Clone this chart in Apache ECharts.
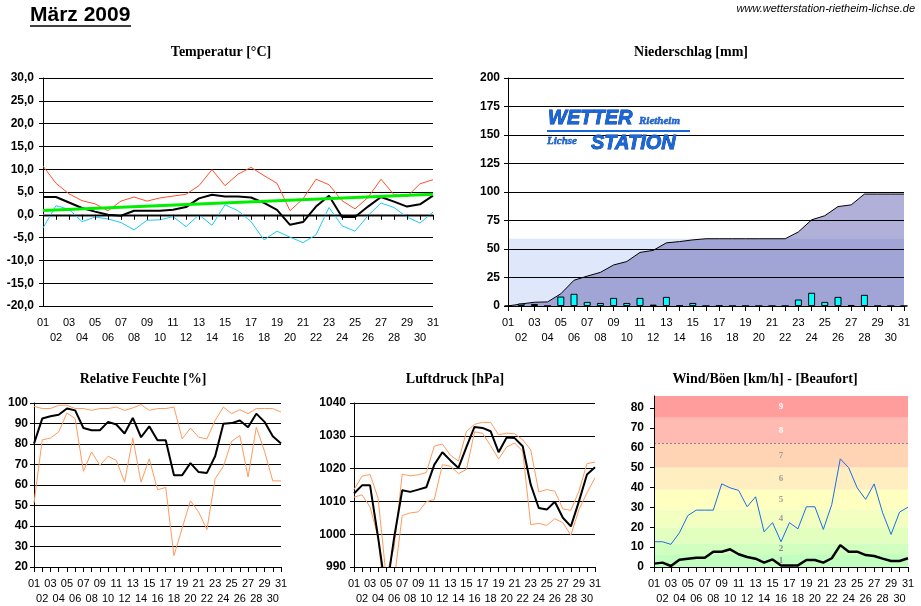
<!DOCTYPE html>
<html><head><meta charset="utf-8">
<script src="https://cdn.jsdelivr.net/npm/echarts@6/dist/echarts.min.js"></script>
<style>html,body{margin:0;padding:0;background:#fff}#c{width:921px;height:606px}</style>
</head><body><div id="c"></div>
<script>
const days = ['01','02','03','04','05','06','07','08','09','10','11','12','13','14','15','16','17','18','19','20','21','22','23','24','25','26','27','28','29','30','31'];

// Temperatur [°C]
const tempMax  = [10.7,6.9,4.6,3.1,2.4,0.9,3.0,3.9,3.0,3.7,4.1,4.5,6.4,9.9,6.4,8.9,10.4,8.6,6.9,0.9,3.5,7.8,6.6,3.1,1.3,3.8,7.8,4.4,4.0,6.8,7.7];
const tempMean = [3.9,3.9,2.7,1.5,0.7,0.0,-0.2,0.9,0.9,0.9,1.1,1.7,3.6,4.4,4.0,4.0,3.8,2.6,1.1,-2.2,-1.6,1.8,4.2,-0.5,-0.5,1.8,3.9,2.9,1.8,2.3,4.2];
const tempMin  = [-2.9,2.0,1.2,-1.5,-0.5,-0.9,-1.7,-3.3,-1.2,-1.1,-0.4,-2.6,0.0,-2.3,2.2,0.9,-1.5,-5.5,-3.6,-4.9,-6.1,-4.4,1.6,-2.4,-3.6,-0.2,2.6,1.6,-0.5,-1.8,0.6];
const tempTrend = [0.95, 4.5];   // Trendlinie: Wert am 01. und am 31.
const tempTicks = {min: -20, max: 30, interval: 5};

// Niederschlag [mm]
const rainDaily = [0,2.1,1.8,0,8.3,10.7,3.6,2.7,7.1,2.7,7.1,1.2,8.0,0.3,2.7,0,0.3,0,0,0,0,0,5.7,11.6,3.6,8.0,0.9,9.8,0,0,0];
const rainSum   = [0,1.8,3.3,3.6,10.7,22.6,26.2,29.5,36,39,47,48.8,55.4,56.5,58,59,59,59,59,59,59,59,65,75.6,79.2,87.2,88.7,98.2,98.2,98.2,98.2];
const rainMeanLevel = 59;
const rainTicks = {min: 0, max: 200, interval: 25};

// Relative Feuchte [%]
const humMax  = [98.4,97.3,97.3,98.9,98.9,97.3,97.3,96.4,97.3,97.3,98,96.4,97.6,99.2,96.4,97.3,97.3,98,82.5,87.8,83.3,82.5,91.5,98,94.8,96.7,94.8,97.3,97.3,97.3,95.6];
const humMean = [80.2,92.4,93.5,94.3,97.3,96.4,87.8,86.7,86.7,90.8,89.5,85.1,92.7,83.3,88.6,81.8,81.8,64.8,64.8,70.7,66.3,65.9,74,89.9,90.2,91.5,88.2,94.8,90.8,83.8,80.2];
const humMin  = [51.2,82,82.9,85.9,95.1,92.4,66.7,76.1,69.6,74,72,61.4,82.9,61.4,72.8,57.7,58.8,25.6,39,52.3,46.8,38.2,63.1,69.1,81.3,84.1,63.9,88.2,76.4,62,62];
const humTicks = {min: 20, max: 100, interval: 10};

// Luftdruck [hPa]
const pressMax  = [1013.6,1017.7,1018.2,1011,987,996,1018.3,1017.8,1018.1,1018.8,1026.9,1027.5,1024.1,1022.3,1031.3,1033.5,1034.1,1034.1,1030.3,1030.8,1030.6,1028.8,1025.7,1012.9,1013.6,1013.1,1007.7,1007.3,1013.1,1021.5,1022];
const pressMean = [1012.4,1014.9,1014.9,999,982,999,1013.4,1012.9,1013.6,1014.3,1021.2,1025,1022.5,1020.2,1026.6,1032.7,1032.4,1031.4,1025,1029.5,1029.3,1026.8,1015.1,1008,1007.5,1009.9,1005,1002.4,1010,1018.2,1020.4];
const pressMin  = [1011.3,1012,1008.3,999,975,986,1005.7,1006.5,1006.8,1009.9,1010.6,1021.2,1020.7,1018.5,1019.7,1031.2,1030.8,1027,1022.9,1026.6,1027.8,1025.3,1002.9,1003.3,1002.7,1004.7,1003.5,999.7,1007.5,1012.6,1017.2];
const pressTicks = {min: 990, max: 1040, interval: 10};

// Wind/Böen [km/h]
const windGust = [12.7,12.7,11.4,17.2,25.9,28.6,28.6,28.6,41.8,39.8,38.5,30.3,35.3,17.7,22.3,12.7,22.3,19.2,30.3,30.3,18.9,31.5,54.4,49.9,39.8,34,41.8,27.3,16.4,27.6,30.1];
const windMean = [1.7,2.2,0.5,3.7,4.2,4.7,4.7,7.7,7.7,8.9,6.4,5,4.2,2.2,3.8,0.8,0.8,0.8,3.5,3.5,2.2,4.4,11,7.7,7.7,6,5.5,4.2,3,3,4.4];
const beaufortLimits = [0,6,12,20,29,39,50,62,75,86];
const beaufortLabels = ['1','2','3','4','5','6','7','8','9'];
const windTicks = {min: 0, max: 86, interval: 10};

// Styles
const bandColors = ['#c0ffc0','#d0ffc0','#e2ffc0','#f2ffc0','#ffffc0','#ffeec0','#ffd4b4','#ffbbb2','#ff9c9c'];
const bandLabelColors = ['#8a8a8a','#8a8a8a','#f4f4f4','#a0a0a0','#a0a0a0','#a0a0a0','#a89a9a','#ffffff','#ffffff'];

const grids = [
  {left: 43, right: 488, top: 78, bottom: 300},
  {left: 508, right: 17, top: 78, bottom: 300},
  {left: 34, right: 640, top: 403, bottom: 39},
  {left: 354, right: 326, top: 403, bottom: 39},
  {left: 654, right: 13, top: 396, bottom: 38}
];

function xAx(i){
  return {
    type: 'category', gridIndex: i, data: days, boundaryGap: false, z: 10,
    axisLine: {show: true, lineStyle: {color: '#000', width: 1}},
    axisTick: {show: true, interval: 0, length: 5, lineStyle: {color: '#000'}},
    axisLabel: {interval: 0, color: '#000', fontFamily: 'Liberation Sans, Arial', fontSize: 11, lineHeight: 15, margin: 9,
      formatter: (v, idx) => idx % 2 === 0 ? v : '\n' + v},
    splitLine: {show: false}
  };
}
function yAx(i, t, opts){
  return Object.assign({
    type: 'value', gridIndex: i, min: t.min, max: t.max, interval: t.interval,
    axisLine: {show: true, lineStyle: {color: '#000', width: 1}},
    axisTick: {show: true, length: 4, lineStyle: {color: '#000'}},
    axisLabel: {color: '#000', fontFamily: 'Liberation Sans, Arial', fontWeight: 'bold', fontSize: 12, margin: 8, formatter: v => String(v)},
    splitLine: {show: true, lineStyle: {color: '#000', width: 1}}
  }, opts || {});
}

const chart = echarts.init(document.getElementById('c'), null, {renderer: 'canvas'});

const titleFont = 'bold 14px "Liberation Serif", "Times New Roman", serif';
const logoFill = '#1768dc', logoStroke = '#00308a';

chart.setOption({
  animation: false,
  backgroundColor: '#fff',
  grid: grids,
  xAxis: [xAx(0), xAx(1), xAx(2), xAx(3), xAx(4)],
  yAxis: [
    yAx(0, tempTicks, {axisLabel: {color: '#000', fontFamily: 'Liberation Sans, Arial', fontWeight: 'bold', fontSize: 12, margin: 9,
      formatter: v => v.toFixed(1).replace('.', ',')}}),
    yAx(1, rainTicks, {z: 10}),
    yAx(2, humTicks, {axisLabel: {color: '#000', fontFamily: 'Liberation Sans, Arial', fontWeight: 'bold', fontSize: 12, margin: 6, formatter: v => String(v)}}),
    yAx(3, pressTicks),
    yAx(4, windTicks, {z: 10, splitLine: {show: false},
      axisLabel: {color: '#000', fontFamily: 'Liberation Sans, Arial', fontWeight: 'bold', fontSize: 12, margin: 10, showMaxLabel: false, formatter: v => String(v)}})
  ],
  series: [
    // Temperatur
    {type: 'line', xAxisIndex: 0, yAxisIndex: 0, data: tempMax, symbol: 'none', lineStyle: {color: '#ff5228', width: 1}, z: 3},
    {type: 'line', xAxisIndex: 0, yAxisIndex: 0, data: tempMin, symbol: 'none', lineStyle: {color: '#1ccbf5', width: 1}, z: 3,
      markLine: {silent: true, symbol: 'none', label: {show: false}, lineStyle: {color: '#888', width: 3, type: 'solid'}, data: [{yAxis: 0}], z: 2}},
    {type: 'line', xAxisIndex: 0, yAxisIndex: 0, data: tempMean, symbol: 'none', lineStyle: {color: '#000', width: 2}, z: 4},
    {type: 'line', xAxisIndex: 0, yAxisIndex: 0, data: [[0, tempTrend[0]], [days.length - 1, tempTrend[1]]], symbol: 'none', lineStyle: {color: '#00ee00', width: 3}, z: 5},
    // Niederschlag
    {type: 'line', xAxisIndex: 1, yAxisIndex: 1, data: days.map(() => rainMeanLevel), symbol: 'none', lineStyle: {width: 0, opacity: 0},
      areaStyle: {color: '#dfe8fa', opacity: 1}, z: 1},
    {type: 'line', xAxisIndex: 1, yAxisIndex: 1, data: rainSum, symbol: 'none', lineStyle: {color: '#000', width: 1},
      areaStyle: {color: 'rgba(97,97,177,0.5)', opacity: 1}, z: 2},
    {type: 'bar', xAxisIndex: 1, yAxisIndex: 1, data: rainDaily, barWidth: 7, itemStyle: {color: '#00ffff', borderColor: '#000', borderWidth: 1}, z: 3},
    // Feuchte
    {type: 'line', xAxisIndex: 2, yAxisIndex: 2, data: humMax, symbol: 'none', lineStyle: {color: '#ff9a5c', width: 1}, z: 3},
    {type: 'line', xAxisIndex: 2, yAxisIndex: 2, data: humMin, symbol: 'none', lineStyle: {color: '#ff9a5c', width: 1}, z: 3},
    {type: 'line', xAxisIndex: 2, yAxisIndex: 2, data: humMean, symbol: 'none', lineStyle: {color: '#000', width: 2}, z: 4},
    // Luftdruck
    {type: 'line', xAxisIndex: 3, yAxisIndex: 3, data: pressMax, symbol: 'none', lineStyle: {color: '#ff9a5c', width: 1}, z: 3},
    {type: 'line', xAxisIndex: 3, yAxisIndex: 3, data: pressMin, symbol: 'none', lineStyle: {color: '#ff9a5c', width: 1}, z: 3},
    {type: 'line', xAxisIndex: 3, yAxisIndex: 3, data: pressMean, symbol: 'none', lineStyle: {color: '#000', width: 2}, z: 4},
    // Wind
    {type: 'line', xAxisIndex: 4, yAxisIndex: 4, data: windGust, symbol: 'none', lineStyle: {color: '#1a6ee6', width: 1}, z: 3,
      markArea: {silent: true,
        data: beaufortLabels.map((lab, k) => [
          {yAxis: beaufortLimits[k], itemStyle: {color: bandColors[k]},
           label: {show: true, position: 'inside', formatter: lab, color: bandLabelColors[k], fontSize: 9, fontFamily: 'Liberation Serif, serif', fontWeight: 'bold'}},
          {yAxis: beaufortLimits[k + 1]}
        ])},
      markLine: {silent: true, symbol: 'none', label: {show: false}, lineStyle: {color: '#8a8a8a', width: 1, type: [2, 2]},
        data: [{yAxis: beaufortLimits[7]}]}},
    {type: 'line', xAxisIndex: 4, yAxisIndex: 4, data: windMean, symbol: 'none', lineStyle: {color: '#000', width: 2.5}, z: 4}
  ],
  graphic: [
    {type: 'text', style: {text: 'März 2009', x: 30, y: 15, font: 'bold 21px "Liberation Sans", Arial', fill: '#000', textVerticalAlign: 'middle'}},
    {type: 'line', shape: {x1: 30, y1: 26, x2: 131, y2: 26}, style: {stroke: '#000', lineWidth: 1.5}},
    {type: 'text', style: {text: 'www.wetterstation-rietheim-lichse.de', x: 915, y: 9, font: 'italic 11px "Liberation Sans", Arial', fill: '#000', textAlign: 'right', textVerticalAlign: 'middle'}},
    {type: 'text', style: {text: 'Temperatur [°C]', x: 221, y: 52, font: titleFont, fill: '#000', textAlign: 'center', textVerticalAlign: 'middle'}},
    {type: 'text', style: {text: 'Niederschlag [mm]', x: 691, y: 52, font: titleFont, fill: '#000', textAlign: 'center', textVerticalAlign: 'middle'}},
    {type: 'text', style: {text: 'Relative Feuchte [%]', x: 143, y: 379, font: titleFont, fill: '#000', textAlign: 'center', textVerticalAlign: 'middle'}},
    {type: 'text', style: {text: 'Luftdruck [hPa]', x: 455, y: 379, font: titleFont, fill: '#000', textAlign: 'center', textVerticalAlign: 'middle'}},
    {type: 'text', style: {text: 'Wind/Böen [km/h] - [Beaufort]', x: 765, y: 379, font: titleFont, fill: '#000', textAlign: 'center', textVerticalAlign: 'middle'}},
    // Logo
    {type: 'text', z: 20, style: {text: 'WETTER', x: 548, y: 118, font: 'italic 900 20px "Liberation Sans", Arial', fill: logoFill, stroke: logoStroke, lineWidth: 0.8, textVerticalAlign: 'middle'}},
    {type: 'text', z: 20, style: {text: 'Rietheim', x: 639, y: 121, font: 'italic bold 11px "Liberation Serif", serif', fill: logoFill, stroke: logoStroke, lineWidth: 0.4, textVerticalAlign: 'middle'}},
    {type: 'line', z: 20, shape: {x1: 547, y1: 131, x2: 690, y2: 131}, style: {stroke: logoFill, lineWidth: 2}},
    {type: 'text', z: 20, style: {text: 'Lichse', x: 547, y: 141, font: 'italic bold 11px "Liberation Serif", serif', fill: logoFill, stroke: logoStroke, lineWidth: 0.4, textVerticalAlign: 'middle'}},
    {type: 'text', z: 20, style: {text: 'STATION', x: 591, y: 143, font: 'italic 900 20px "Liberation Sans", Arial', fill: logoFill, stroke: logoStroke, lineWidth: 0.8, textVerticalAlign: 'middle'}}
  ]
});
</script>
</body></html>
